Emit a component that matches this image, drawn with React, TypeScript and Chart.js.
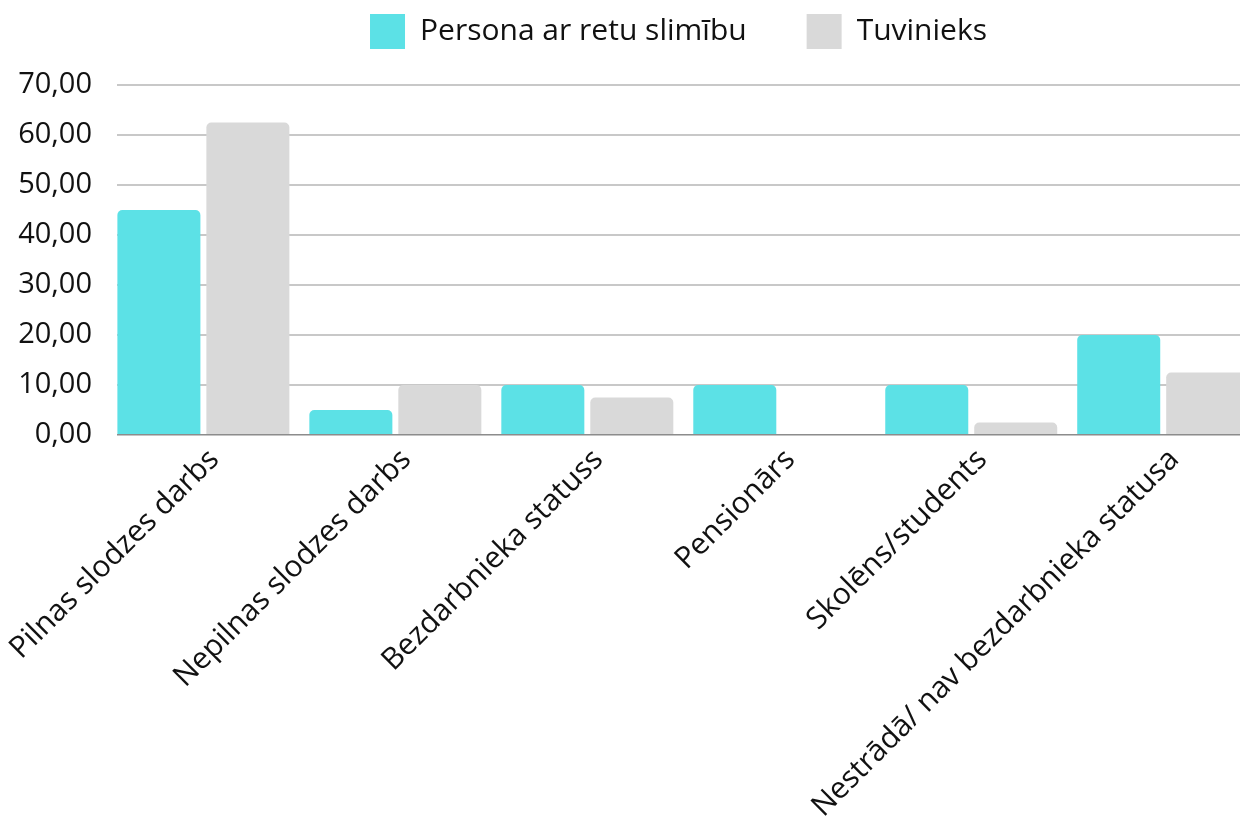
import React, { useEffect, useRef } from "react";
import { Chart, registerables } from "chart.js";

Chart.register(...registerables);

const categories = [
  "Pilnas slodzes darbs",
  "Nepilnas slodzes darbs",
  "Bezdarbnieka statuss",
  "Pensionārs",
  "Skolēns/students",
  "Nestrādā/ nav bezdarbnieka statusa",
];
const seriesNames = ["Persona ar retu slimību", "Tuvinieks"];
const personaValues = [45, 5, 10, 10, 10, 20];
const tuviniekiValues = [62.5, 10, 7.5, 0, 2.5, 12.5];
const yTicks = [0, 10, 20, 30, 40, 50, 60, 70];

const FONT = "'Open Sans', 'Noto Sans', sans-serif";

export default function App() {
  const ref = useRef<HTMLCanvasElement | null>(null);

  useEffect(() => {
    if (!ref.current) return;
    const legendSpacing = {
      id: "legendSpacing",
      beforeInit(chart: any) {
        const legend = chart.legend;
        if (!legend) return;
        const orig = legend.fit;
        legend.fit = function () {
          orig.call(this);
          this.height = 131;
        };
      },
    };
    const chart = new Chart(ref.current, {
      type: "bar",
      data: {
        datasets: [
          {
            label: seriesNames[0],
            data: personaValues.map((v, i) => ({ x: i, y: v })),
            backgroundColor: "#5ce1e6",
            borderWidth: 0,
            borderRadius: 5,
            categoryPercentage: 0.927,
            barPercentage: 0.933,
          },
          {
            label: seriesNames[1],
            data: tuviniekiValues.map((v, i) => ({ x: i, y: v })),
            backgroundColor: "#d9d9d9",
            borderWidth: 0,
            borderRadius: 5,
            categoryPercentage: 0.927,
            barPercentage: 0.933,
          },
        ],
      },
      plugins: [legendSpacing],
      options: {
        responsive: false,
        animation: false,
        events: [],
        layout: { padding: { top: -46, left: 0, right: 0, bottom: 0 } },
        plugins: {
          tooltip: { enabled: false },
          legend: {
            position: "top",
            align: "center",
            fullSize: false,
            labels: {
              boxWidth: 35,
              boxHeight: 35,
              padding: 60,
              color: "#111",
              font: { family: FONT, size: 30 },
            },
          },
        },
        scales: {
          x: {
            type: "linear",
            min: -0.45,
            max: 5.4,
            offset: false,
            afterBuildTicks: (axis: any) => {
              axis.ticks = categories.map((_, i) => ({ value: i }));
            },
            afterFit: (axis: any) => {
              axis.height = 388;
              axis.paddingLeft = 0;
              axis.paddingRight = 0;
            },
            grid: { display: false, drawTicks: false },
            border: { display: true, color: "#c4c4c4", width: 1 },
            ticks: {
              autoSkip: false,
              minRotation: 45,
              maxRotation: 45,
              padding: 7,
              labelOffset: 11,
              color: "#111",
              font: { family: FONT, size: 30 },
              callback: (v: any) => categories[Math.round(Number(v))] ?? "",
            },
          },
          y: {
            min: 0,
            max: 70,
            afterBuildTicks: (axis: any) => {
              axis.ticks = yTicks.map((v) => ({ value: v }));
            },
            afterFit: (axis: any) => {
              axis.width = 117;
            },
            grid: {
              drawTicks: false,
              lineWidth: 2,
              color: (ctx: any) => (ctx.tick && ctx.tick.value === 0 ? "#8c8c8c" : "#c8c8c8"),
            },
            border: { display: false },
            ticks: {
              padding: 25,
              color: "#111",
              font: { family: FONT, size: 29 },
              callback: (v: any) => Number(v).toFixed(2).replace(".", ","),
            },
          },
        },
      },
    } as any);
    return () => chart.destroy();
  }, []);

  return (
    <div
      style={{
        position: "fixed",
        left: 0,
        top: 0,
        width: 1240,
        height: 823,
        overflow: "hidden",
        background: "#fff",
      }}
    >
      <canvas
        ref={ref}
        width={1240}
        height={823}
        style={{ display: "block", width: 1240, height: 823 }}
      />
    </div>
  );
}
